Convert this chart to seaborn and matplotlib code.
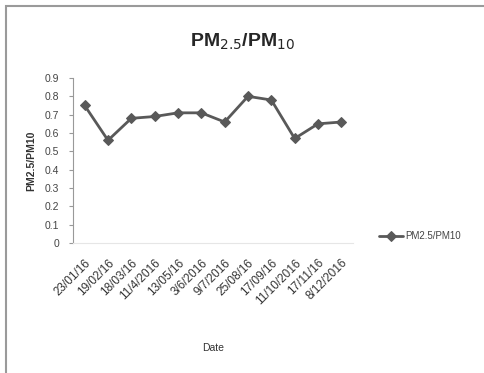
import pandas as pd
import seaborn as sns
import matplotlib.pyplot as plt
from matplotlib.patches import Rectangle

# --- data ---
DATES = ["23/01/16", "19/02/16", "18/03/16", "11/4/2016", "13/05/16", "3/6/2016",
         "9/7/2016", "25/08/16", "17/09/16", "11/10/2016", "17/11/16", "8/12/2016"]
RATIO = [0.75, 0.56, 0.68, 0.69, 0.71, 0.71, 0.66, 0.80, 0.78, 0.57, 0.65, 0.66]
Y_TICKS = [0, 0.1, 0.2, 0.3, 0.4, 0.5, 0.6, 0.7, 0.8, 0.9]

df = pd.DataFrame({"Date": DATES, "ratio": RATIO})

sns.set_style("white")
plt.rcParams['font.family'] = ['Liberation Sans', 'DejaVu Sans']

fig = plt.figure(figsize=(4.84, 3.73), dpi=100)
ax = fig.add_axes([73 / 484, 1 - 243 / 373, 280 / 484, 165 / 373])

line_color = '#595959'
sns.lineplot(data=df, x="Date", y="ratio", sort=False, ax=ax, color=line_color,
             marker='D', markersize=5, markeredgecolor=line_color, linewidth=2,
             label='PM2.5/PM10')

ax.set_xlim(-0.5, len(DATES) - 0.5)
ax.set_ylim(0, 0.9)
ax.set_yticks(Y_TICKS)
ax.set_yticklabels([f"{v:g}" for v in Y_TICKS], fontsize=7.5, color='#444444')
ax.set_xticks(range(len(DATES)))
ax.set_xticklabels(DATES, rotation=45, ha='right', rotation_mode='anchor',
                   fontsize=8.5, color='#333333')
ax.tick_params(axis='x', length=0, pad=10)
ax.tick_params(axis='y', length=3, color='#999999', left=True, pad=7)

for side in ['top', 'right']:
    ax.spines[side].set_visible(False)
ax.spines['left'].set_color('#999999')
ax.spines['bottom'].set_color('#e6e6e6')

ax.set_xlabel('Date', fontsize=7.5, color='#333333', labelpad=26)
ax.set_ylabel('PM2.5/PM10', fontsize=7.5, fontweight='bold', color='#333333', labelpad=6)

fig.text(0.5, 1 - 42 / 373, r'PM$_{2.5}$/PM$_{10}$', ha='center', va='center',
         fontsize=14, fontweight='bold')

ax.legend(loc='center left', bbox_to_anchor=(1.06, 0.04), frameon=False,
          fontsize=7, handlelength=2.5, handletextpad=0.2, labelcolor='#444444')

# outer chart frame (cropped in the reference)
fig.patches.append(Rectangle((6 / 484, -0.2), 1.2, 1 - 6 / 373 + 0.2,
                             transform=fig.transFigure, fill=False,
                             edgecolor='#9a9a9a', linewidth=1.5))

fig.savefig('out.png', dpi=100)
